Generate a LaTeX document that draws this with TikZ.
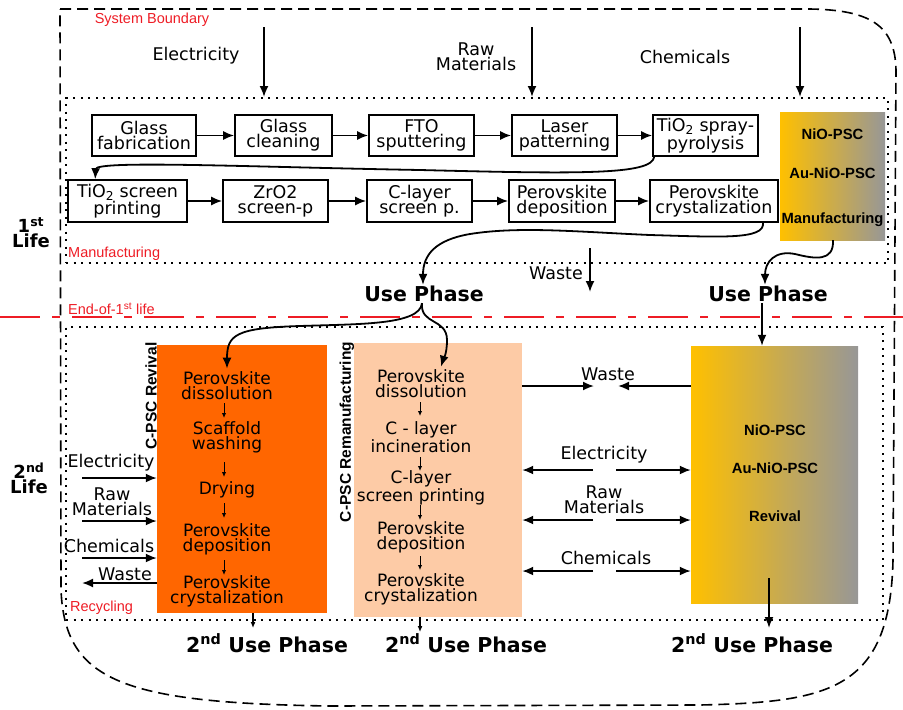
\documentclass[tikz,border=0pt]{standalone}
\usepackage{fontspec}
\setmainfont{DejaVu Sans}
\newfontfamily\lib{Liberation Sans}
\usetikzlibrary{arrows.meta}
\definecolor{revor}{HTML}{FF6600}
\definecolor{peach}{HTML}{FDCBA6}
\definecolor{gold}{HTML}{FFC000}
\definecolor{gry}{HTML}{979797}
\definecolor{goldmid}{HTML}{D6AE4E}
\definecolor{redl}{HTML}{EE1C25}
\begin{document}
\begin{tikzpicture}[x=1pt,y=-1pt,
  procbox/.style={draw, line width=1.6pt, inner sep=0pt, minimum height=41pt, align=center, font=\fontsize{17.5}{15}\selectfont},
  arr/.style={line width=1.8pt, -{Latex[length=11pt,width=9pt]}},
  sarr/.style={line width=1pt, -{Latex[length=5pt,width=4.5pt]}},
  darr/.style={line width=1.2pt, -{Latex[length=6pt,width=5pt]}},
  dotbox/.style={draw, line width=2pt, dash pattern=on 2pt off 5.5pt, inner sep=0pt},
  bound/.style={line width=1.6pt, dash pattern=on 11pt off 6pt},
  redline/.style={draw=redl, line width=1.5pt, dash pattern=on 40pt off 12pt on 8pt off 12pt},
  lbl/.style={font=\fontsize{17.5}{15}\selectfont, align=center, inner sep=0pt},
  redlbl/.style={font=\lib\fontsize{14.5}{14}\selectfont, text=redl, inner sep=0pt},
  usep/.style={font=\bfseries\fontsize{20.5}{20}\selectfont, inner sep=1pt},
  lifelbl/.style={font=\bfseries\fontsize{18}{15}\selectfont, align=center, inner sep=0pt},
  gradbox/.style={left color=gold, middle color=goldmid, right color=gry, inner sep=0pt},
  gradtxt/.style={font=\lib\bfseries\fontsize{14.8}{15}\selectfont, inner sep=0pt},
  rotlbl/.style={font=\lib\bfseries\fontsize{15.5}{15}\selectfont, rotate=90, inner sep=0pt},
  inbox/.style={font=\fontsize{17}{15}\selectfont, align=center, inner sep=0pt}
]
\useasboundingbox (0,0) rectangle (903,710);

% system boundary
\draw[bound] (60,9) -- (810,9) .. controls (870,10) and (895,25) .. (896,70)
  -- (893,560) .. controls (890,690) and (830,702) .. (700,705) -- (330,706)
  .. controls (120,703) and (65,680) .. (61,590) -- cycle;

% end of first life line
\draw[redline] (0,317) -- (903,317);

% dotted areas
\node[dotbox, minimum width=822pt, minimum height=165pt] (mfg) at (477,180.5) {};
\node[dotbox, minimum width=817pt, minimum height=293pt] (rec) at (474.5,473.5) {};

% red labels
\node[redlbl] (sb) at (152,20) {System Boundary};
\node[redlbl, anchor=west] (mlab) at (68,254) {Manufacturing};
\node[redlbl, anchor=west] (eol) at (68,309) {End-of-1\textsuperscript{st} life};
\node[redlbl, anchor=west] (rlab) at (70,608) {Recycling};

% life labels
\node[lifelbl] (l1) at (31,233) {1\textsuperscript{st}\\Life};
\node[lifelbl] (l2) at (29,478) {2\textsuperscript{nd}\\Life};

% top inputs
\node[lbl] (tE) at (196,56) {Electricity};
\node[lbl] (tR) at (476,57) {Raw\\Materials};
\node[lbl] (tC) at (685,57) {Chemicals};
\coordinate (aE) at (264,27);
\coordinate (aR) at (532,27);
\coordinate (aC) at (800,27);
\draw[arr] (aE) -- (aE |- mfg.north);
\draw[arr] (aR) -- (aR |- mfg.north);
\draw[arr] (aC) -- (aC |- mfg.north);

% row 1
\node[procbox, minimum width=104pt] (gf) at (144,135.5) {Glass\\fabrication};
\node[procbox, minimum width=97pt] (gc) at (283.5,135.5) {Glass\\cleaning};
\node[procbox, minimum width=105pt] (fto) at (421.5,135.5) {FTO\\sputtering};
\node[procbox, minimum width=105pt] (lp) at (564.5,135.5) {Laser\\patterning};
\node[procbox, minimum width=105pt] (tsp) at (705.5,135.5) {TiO\textsubscript{2} spray-\\pyrolysis};
\draw[arr] (gf) -- (gc);
\draw[arr] (gc) -- (fto);
\draw[arr] (fto) -- (lp);
\draw[arr] (lp) -- (tsp);

% row 2
\node[procbox, minimum width=119pt, minimum height=42pt] (tsc) at (127.5,201) {TiO\textsubscript{2} screen\\printing};
\node[procbox, minimum width=105pt, minimum height=42pt] (zro) at (275.5,201) {ZrO2\\screen-p};
\node[procbox, minimum width=105pt, minimum height=42pt] (cls) at (419.5,201) {C-layer\\screen p.};
\node[procbox, minimum width=106pt, minimum height=42pt] (pd) at (562,201) {Perovskite\\deposition};
\node[procbox, minimum width=128pt, minimum height=42pt] (pc) at (714,201) {Perovskite\\crystalization};
\draw[arr] (tsc) -- (zro);
\draw[arr] (zro) -- (cls);
\draw[arr] (cls) -- (pd);
\draw[arr] (pd) -- (pc);

\draw[arr] ([xshift=2pt]tsp.south west) .. controls (652,175) and (580,174) .. (420,170)
  .. controls (250,167) and (96,160) .. ([xshift=28pt]tsc.north west);

% NiO manufacturing
\node[gradbox, minimum width=105pt, minimum height=128pt] (nm) at (832.5,176) {};
\node[gradtxt] (nm1) at (832.5,134) {NiO-PSC};
\node[gradtxt] (nm2) at (832.5,173) {Au-NiO-PSC};
\node[gradtxt] (nm3) at (832.5,220) {Manufacturing};

% use phases
\node[usep] (UL) at (424,294) {Use Phase};
\node[usep] (UR) at (768,294) {Use Phase};

\draw[arr] ([xshift=49pt]pc.south) .. controls (765,240) and (720,237) .. (650,235)
  .. controls (580,232) and (520,226) .. (470,234)
  .. controls (435,240) and (423,255) .. ([xshift=-1pt]UL.north);
\draw[arr] ([xshift=0.5pt]nm.south) .. controls (834,262) and (815,259) .. (795,254)
  .. controls (775,250) and (765,262) .. ([xshift=-3pt]UR.north);

% waste (first life)
\node[lbl] (tw) at (556,273) {Waste};
\coordinate (w1) at (590,248);
\coordinate (w2) at (590,292);
\draw[arr] (w1) -- (w2);

% C-PSC revival
\node[fill=revor, minimum width=170pt, minimum height=268pt, inner sep=0pt] (revb) at (242,479) {};
\node[rotlbl] (lrev) at (151,396) {C-PSC Revival};
\node[inbox] (r1) at (227,386) {Perovskite\\dissolution};
\node[inbox] (r2) at (227,437) {Scaffold\\washing};
\node[inbox] (r3) at (227,490) {Drying};
\node[inbox] (r4) at (227,539) {Perovskite\\deposition};
\node[inbox] (r5) at (227,591) {Perovskite\\crystalization};
\draw[sarr] ([xshift=-3pt]r1 |- 0,403) -- ([xshift=-3pt]r2 |- 0,418);
\draw[sarr] ([xshift=-3pt]r2 |- 0,462) -- ([xshift=-3pt]r3 |- 0,477);
\draw[sarr] ([xshift=-3pt]r3 |- 0,503) -- ([xshift=-3pt]r4 |- 0,518);
\draw[sarr] ([xshift=-3pt]r4 |- 0,560) -- ([xshift=-3pt]r5 |- 0,575);

% C-PSC remanufacturing
\node[fill=peach, minimum width=168pt, minimum height=274pt, inner sep=0pt] (remb) at (438,480) {};
\node[rotlbl] (lrem) at (347,432) {C-PSC Remanufacturing};
\node[inbox] (m1) at (421,384) {Perovskite\\dissolution};
\node[inbox] (m2) at (421,437) {C - layer\\incineration};
\node[inbox] (m3) at (421,488) {C-layer\\screen printing};
\node[inbox] (m4) at (421,537) {Perovskite\\deposition};
\node[inbox] (m5) at (421,589) {Perovskite\\crystalization};
\draw[sarr] ([xshift=-1pt]m1 |- 0,402) -- ([xshift=-1pt]m2 |- 0,416);
\draw[sarr] ([xshift=-1pt]m2 |- 0,457) -- ([xshift=-1pt]m3 |- 0,471);
\draw[sarr] ([xshift=-1pt]m3 |- 0,505) -- ([xshift=-1pt]m4 |- 0,520);
\draw[sarr] ([xshift=-1pt]m4 |- 0,556) -- ([xshift=-1pt]m5 |- 0,570);

% NiO revival
\node[gradbox, minimum width=167pt, minimum height=257pt] (nrb) at (774.5,474.5) {};
\node[gradtxt] (n1) at (775,430) {NiO-PSC};
\node[gradtxt] (n2) at (775,468) {Au-NiO-PSC};
\node[gradtxt] (n3) at (775,516) {Revival};

% from use phases
\draw[arr] ([xshift=-2pt]UL.south) .. controls (420,325) and (360,324) .. (300,326)
  .. controls (235,328) and (227,335) .. ([yshift=3pt]r1.north);
\draw[arr] ([xshift=-2pt]UL.south) .. controls (420,325) and (447,318) .. (447,340)
  .. controls (447,355) and (443,360) .. ([xshift=20pt,yshift=3pt]m1.north);
\draw[arr] ([xshift=-6pt]UR.south) -- ([xshift=-12.5pt]nrb.north);

% left inputs
\node[lbl] (le) at (111,463) {Electricity};
\node[lbl] (lr) at (112,502) {Raw\\Materials};
\node[lbl] (lc) at (109,546) {Chemicals};
\node[lbl] (lw) at (125,574) {Waste};
\coordinate (ie) at (82,478);
\coordinate (ir) at (82,521);
\coordinate (ic) at (82,558);
\coordinate (iw) at (82,583);
\draw[arr] (ie) -- (ie -| revb.west);
\draw[arr] (ir) -- (ir -| revb.west);
\draw[arr] (ic) -- (ic -| revb.west);
\draw[arr] (iw -| revb.west) -- (iw);

% middle exchanges
\node[lbl] (mw) at (608,374) {Waste};
\node[lbl] (me) at (604,455) {Electricity};
\node[lbl] (mr) at (604,500) {Raw\\Materials};
\node[lbl] (mc) at (606,558) {Chemicals};
\coordinate (mw1) at (594,386);
\coordinate (mw2) at (618,386);
\coordinate (me1) at (593,470);
\coordinate (me2) at (616,470);
\coordinate (mr1) at (593,520);
\coordinate (mr2) at (616,520);
\coordinate (mc1) at (593,571);
\coordinate (mc2) at (616,571);
\draw[arr] (mw1 -| remb.east) -- (mw1);
\draw[arr] (mw2 -| nrb.west) -- (mw2);
\draw[arr] (me1) -- (me1 -| remb.east);
\draw[arr] (me2) -- (me2 -| nrb.west);
\draw[arr] (mr1) -- (mr1 -| remb.east);
\draw[arr] (mr2) -- (mr2 -| nrb.west);
\draw[arr] (mc1) -- (mc1 -| remb.east);
\draw[arr] (mc2) -- (mc2 -| nrb.west);

% second use phases
\node[usep] (U1) at (267,643) {2\textsuperscript{nd} Use Phase};
\node[usep] (U2) at (466,643) {2\textsuperscript{nd} Use Phase};
\node[usep] (U3) at (752,643) {2\textsuperscript{nd} Use Phase};
\coordinate (d1) at (253,628);
\coordinate (d2) at (420,632);
\coordinate (d3s) at (769,578);
\coordinate (d3) at (769,628);
\draw[darr] (d1 |- revb.south) -- (d1);
\draw[darr] (d2 |- remb.south) -- (d2);
\draw[arr] (d3s) -- (d3);
\end{tikzpicture}
\end{document}
